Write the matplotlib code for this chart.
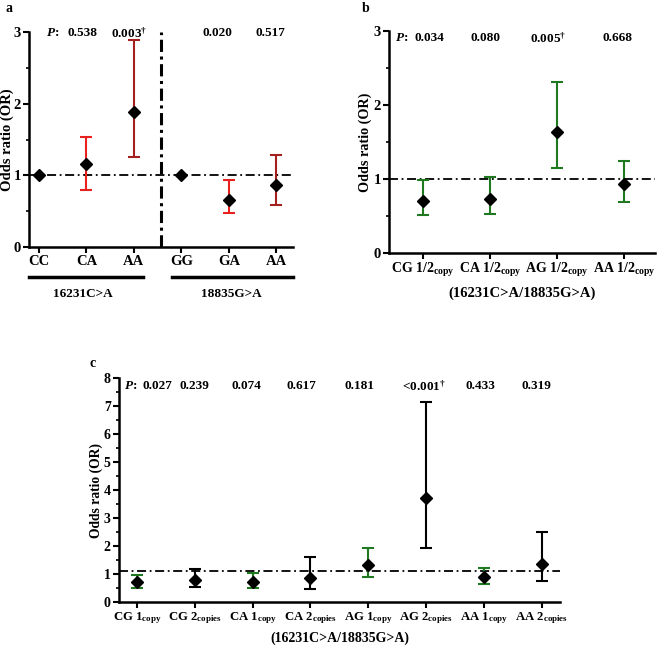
import numpy as np
import matplotlib
matplotlib.use('Agg')
import matplotlib.pyplot as plt
from matplotlib.ticker import MultipleLocator

plt.rcParams['font.family'] = ['Liberation Serif', 'DejaVu Serif']
plt.rcParams['font.weight'] = 'bold'
plt.rcParams['mathtext.fontset'] = 'custom'
plt.rcParams['mathtext.rm'] = 'Liberation Serif'
plt.rcParams['mathtext.it'] = 'Liberation Serif:italic:bold'
plt.rcParams['mathtext.bf'] = 'Liberation Serif:bold'

# -- panel a data
a_labels = ['CC', 'CA', 'AA', 'GG', 'GA', 'AA']
a_or = [1.0, 1.16, 1.89, 1.0, 0.66, 0.87]
a_lo = [1.0, 0.80, 1.25, 1.0, 0.47, 0.59]
a_hi = [1.0, 1.53, 2.89, 1.0, 0.94, 1.29]
a_colors = [None, '#e8201e', '#a3201e', None, '#e8201e', '#a3201e']
a_p = ['0.538', '0.003$^{\\dagger}$', '0.020', '0.517']
a_groups = ['16231C>A', '18835G>A']

# -- panel b data
b_labels = ['CG 1/2$_{\\mathrm{copy}}$', 'CA 1/2$_{\\mathrm{copy}}$',
            'AG 1/2$_{\\mathrm{copy}}$', 'AA 1/2$_{\\mathrm{copy}}$']
b_or = [0.70, 0.73, 1.635, 0.93]
b_lo = [0.52, 0.53, 1.15, 0.69]
b_hi = [0.98, 1.03, 2.31, 1.25]
b_p = ['0.034', '0.080', '0.005$^{\\dagger}$', '0.668']

# -- panel c data
c_labels = ['CG 1$_{\\mathrm{copy}}$', 'CG 2$_{\\mathrm{copies}}$',
            'CA 1$_{\\mathrm{copy}}$', 'CA 2$_{\\mathrm{copies}}$',
            'AG 1$_{\\mathrm{copy}}$', 'AG 2$_{\\mathrm{copies}}$',
            'AA 1$_{\\mathrm{copy}}$', 'AA 2$_{\\mathrm{copies}}$']
c_or = [0.70, 0.80, 0.73, 0.86, 1.33, 3.73, 0.90, 1.36]
c_lo = [0.50, 0.54, 0.50, 0.47, 0.88, 1.93, 0.64, 0.75]
c_hi = [0.98, 1.17, 1.05, 1.61, 1.93, 7.14, 1.21, 2.50]
c_colors = ['#1f7a1f', 'black', '#1f7a1f', 'black', '#1f7a1f', 'black', '#1f7a1f', 'black']
c_p = ['0.027', '0.239', '0.074', '0.617', '0.181', '<0.001$^{\\dagger}$', '0.433', '0.319']

green = '#1f7a1f'
W, H = 661, 647


def style_axes(ax, ymax, fs=10):
  ax.spines['top'].set_visible(False)
  ax.spines['right'].set_visible(False)
  ax.spines['left'].set_linewidth(1.8)
  ax.spines['bottom'].set_linewidth(1.8)
  ax.set_ylim(0, ymax)
  ax.yaxis.set_major_locator(MultipleLocator(1))
  ax.yaxis.set_minor_locator(MultipleLocator(0.5))
  ax.tick_params(axis='both', which='major', width=1.5, length=4, labelsize=fs, pad=2)
  ax.tick_params(axis='y', which='minor', width=1.2, length=2.5)
  for t in ax.get_yticklabels():
    t.set_fontweight('bold')


def draw_points(ax, x, orv, lo, hi, colors):
  for i in range(len(x)):
    if colors[i] is not None:
      ax.errorbar(x[i], orv[i], yerr=[[orv[i] - lo[i]], [hi[i] - orv[i]]], fmt='none',
                  ecolor=colors[i], elinewidth=1.5, capsize=4, capthick=1.5, zorder=2)
    ax.plot(x[i], orv[i], marker='D', color='black', markersize=6, zorder=3, linestyle='none')


fig = plt.figure(figsize=(W / 100, H / 100), dpi=100)

# ---- panel a
ax_a = fig.add_axes([29 / W, 1 - 247 / H, 264 / W, 215 / H])
xa = np.arange(len(a_labels))
style_axes(ax_a, 3, fs=10.5)
ax_a.set_xlim(-0.21, 5.35)
ax_a.axhline(1, color='black', linestyle=(0, (5, 2, 1, 2)), linewidth=1.3, zorder=1)
ax_a.plot([2.58, 2.58], [0, 3], color='black', linestyle=(0, (4, 1.5, 1, 1.5)),
          linewidth=2.2, clip_on=False, zorder=1)
draw_points(ax_a, xa, a_or, a_lo, a_hi, a_colors)
ax_a.set_xticks(xa)
ax_a.set_xticklabels(a_labels, fontweight='bold', fontsize=10.5)
ax_a.set_ylabel('Odds ratio (OR)', fontsize=10.5, fontweight='bold')
ax_a.yaxis.set_label_coords(-0.058, 0.5)
ax_a.text(0.28, 2.98, '$\\it{P}$:', ha='center', va='center', fontsize=9.5)
for xp, s in zip([0.92, 1.9, 3.75, 4.87], a_p):
  ax_a.text(xp, 2.98, s, ha='center', va='center', fontsize=9.5, fontweight='bold')
# group underlines
ax_a.plot([-0.2, 2.19], [-0.42, -0.42], color='black', linewidth=2.5, clip_on=False)
ax_a.plot([2.8, 5.35], [-0.42, -0.42], color='black', linewidth=2.5, clip_on=False)
ax_a.text(0.93, -0.65, a_groups[0], ha='center', va='center', fontsize=9.5, fontweight='bold')
ax_a.text(4.05, -0.65, a_groups[1], ha='center', va='center', fontsize=9.5, fontweight='bold')

# ---- panel b
ax_b = fig.add_axes([389 / W, 1 - 253 / H, 266 / W, 222 / H])
xb = np.arange(len(b_labels))
style_axes(ax_b, 3, fs=10.5)
ax_b.set_xlim(-0.51, 3.46)
ax_b.axhline(1, color='black', linestyle=(0, (5, 2, 1, 2)), linewidth=1.3, zorder=1)
draw_points(ax_b, xb, b_or, b_lo, b_hi, [green] * 4)
ax_b.set_xticks(xb)
ax_b.set_xticklabels(b_labels, fontweight='bold', fontsize=10)
ax_b.set_xlabel('(16231C>A/18835G>A)', fontsize=10.5, fontweight='bold', labelpad=5)
ax_b.set_ylabel('Odds ratio (OR)', fontsize=10.2, fontweight='bold')
ax_b.yaxis.set_label_coords(-0.064, 0.5)
ax_b.text(-0.32, 2.9, '$\\it{P}$:', ha='center', va='center', fontsize=9.5)
for xp, s in zip([0.1, 0.93, 1.86, 2.9], b_p):
  ax_b.text(xp, 2.9, s, ha='center', va='center', fontsize=9.5, fontweight='bold')

# ---- panel c
ax_c = fig.add_axes([119 / W, 1 - 602 / H, 441 / W, 224 / H])
xc = np.arange(len(c_labels))
style_axes(ax_c, 8, fs=10)
ax_c.set_xlim(-0.31, 7.32)
ax_c.axhline(1.1, color='black', linestyle=(0, (5, 2, 1, 2)), linewidth=1.3, zorder=1)
draw_points(ax_c, xc, c_or, c_lo, c_hi, c_colors)
ax_c.set_xticks(xc)
ax_c.set_xticklabels(c_labels, fontweight='bold', fontsize=9.2)
ax_c.set_xlabel('(16231C>A/18835G>A)', fontsize=10, fontweight='bold', labelpad=4)
ax_c.set_ylabel('Odds ratio (OR)', fontsize=9.8, fontweight='bold')
ax_c.yaxis.set_label_coords(-0.036, 0.5)
ax_c.text(-0.11, 7.7, '$\\it{P}$:', ha='center', va='center', fontsize=9.5)
for xp, s in zip([0.35, 1.0, 1.9, 2.85, 3.85, 4.97, 5.95, 6.92], c_p):
  ax_c.text(xp, 7.7, s, ha='center', va='center', fontsize=9.5, fontweight='bold')

# panel letters
fig.text(5 / W, 1 - 8 / H, 'a', fontsize=10, fontweight='bold', va='center')
fig.text(362 / W, 1 - 8 / H, 'b', fontsize=10, fontweight='bold', va='center')
fig.text(90 / W, 1 - 364 / H, 'c', fontsize=10, fontweight='bold', va='center')

fig.savefig('out.png', dpi=100)
